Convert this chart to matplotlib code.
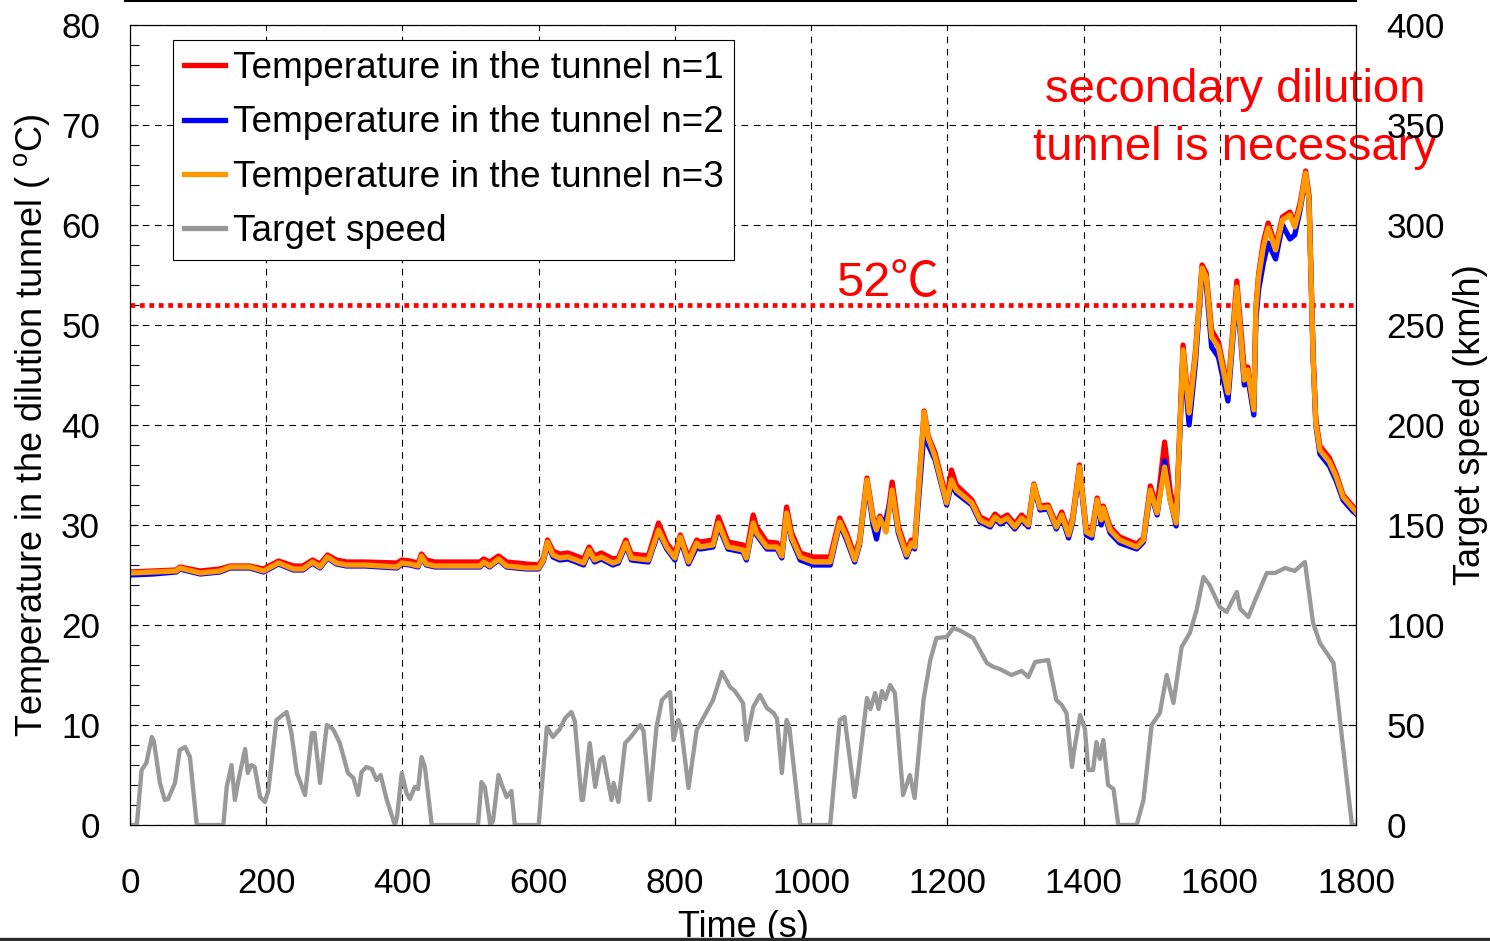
import matplotlib
matplotlib.use('Agg')
import matplotlib.pyplot as plt
from matplotlib import font_manager
from matplotlib.lines import Line2D
from matplotlib.ticker import MultipleLocator

# temperature in the dilution tunnel, three repeated runs (deg C)
TEMP_TIME = [0, 34, 68, 73, 103, 132, 147, 176, 196, 218, 240, 254, 268, 279, 290, 303, 318, 345,
             392, 399, 411, 423, 428, 435, 448, 514, 519, 528, 541, 553, 582, 600, 607, 613, 621,
             631, 643, 655, 666, 674, 682, 692, 709, 717, 728, 736, 761, 776, 788, 800, 808, 820,
             832, 837, 856, 864, 878, 900, 905, 915, 920, 935, 950, 957, 964, 971, 984, 1003, 1028,
             1042, 1052, 1064, 1071, 1082, 1091, 1096, 1101, 1110, 1119, 1128, 1140, 1147, 1152,
             1166, 1172, 1182, 1199, 1206, 1213, 1236, 1248, 1263, 1270, 1278, 1288, 1299, 1309,
             1319, 1327, 1336, 1348, 1360, 1368, 1378, 1384, 1394, 1404, 1412, 1420, 1426, 1429,
             1439, 1453, 1478, 1488, 1498, 1508, 1519, 1527, 1536, 1544, 1546, 1555, 1564, 1574,
             1580, 1588, 1598, 1612, 1625, 1636, 1641, 1650, 1653, 1657, 1664, 1671, 1682, 1692,
             1703, 1710, 1718, 1726, 1731, 1737, 1741, 1747, 1761, 1771, 1781, 1795, 1800]

TEMP_N1 = [25.3, 25.4, 25.5, 25.8, 25.4, 25.6, 25.9, 25.9, 25.6, 26.4, 25.9, 25.9, 26.5, 26.1, 27.0,
           26.5, 26.3, 26.3, 26.2, 26.5, 26.4, 26.2, 27.1, 26.5, 26.3, 26.3, 26.6, 26.3, 26.9, 26.3,
           26.1, 26.0, 26.7, 28.5, 27.4, 27.1, 27.2, 26.9, 26.6, 27.8, 26.9, 27.2, 26.6, 26.7, 28.5,
           27.1, 26.9, 30.2, 28.2, 27.1, 29.0, 26.7, 28.5, 28.3, 28.5, 30.8, 28.3, 28.0, 27.2, 31.0,
           29.8, 28.3, 28.2, 27.3, 31.8, 29.3, 27.2, 26.8, 26.8, 30.7, 29.2, 26.9, 28.5, 34.7, 30.8,
           29.8, 30.9, 29.7, 34.3, 29.9, 27.4, 28.5, 28.2, 41.4, 38.9, 37.2, 32.6, 35.5, 34.0, 32.5,
           30.8, 30.3, 31.1, 30.6, 31.0, 30.1, 31.0, 30.3, 34.1, 31.9, 32.0, 30.1, 31.3, 29.3, 30.8,
           36.0, 29.6, 29.3, 32.7, 30.8, 31.9, 29.8, 28.8, 28.1, 28.7, 33.9, 31.8, 38.3, 33.5, 30.5,
           44.5, 48.0, 41.5, 47.2, 56.0, 55.2, 49.5, 48.3, 43.6, 54.4, 45.5, 45.8, 41.8, 51.8, 55.1,
           58.3, 60.2, 57.9, 60.8, 61.3, 60.1, 62.2, 65.4, 63.0, 47.2, 40.6, 37.9, 36.7, 35.1, 33.0,
           31.9, 31.5]

TEMP_N2 = [25.0, 25.1, 25.3, 25.6, 25.1, 25.3, 25.7, 25.7, 25.3, 26.1, 25.5, 25.5, 26.2, 25.7, 26.7,
           26.1, 25.9, 25.9, 25.7, 26.1, 26.0, 25.8, 26.8, 26.0, 25.8, 25.8, 26.2, 25.8, 26.5, 25.8,
           25.6, 25.6, 26.4, 28.1, 26.8, 26.5, 26.6, 26.3, 26.0, 27.3, 26.3, 26.6, 26.0, 26.2, 28.0,
           26.5, 26.3, 29.3, 27.6, 26.5, 28.5, 26.1, 27.8, 27.6, 27.8, 29.9, 27.6, 27.3, 26.5, 30.0,
           29.0, 27.6, 27.6, 26.7, 31.0, 28.6, 26.5, 26.0, 26.0, 30.1, 28.5, 26.3, 28.0, 34.3, 30.0,
           28.6, 30.4, 30.6, 33.2, 29.2, 26.8, 28.0, 27.6, 39.5, 38.0, 36.5, 32.0, 34.1, 33.2, 32.0,
           30.3, 29.8, 30.6, 30.1, 30.5, 29.6, 30.5, 29.8, 33.9, 31.5, 31.6, 29.6, 30.8, 28.7, 30.3,
           35.6, 29.0, 28.7, 32.4, 30.0, 31.5, 29.2, 28.2, 27.6, 28.3, 33.3, 31.0, 36.4, 32.6, 29.9,
           43.5, 47.0, 40.0, 46.0, 55.4, 54.2, 47.8, 46.8, 42.4, 53.5, 44.0, 44.8, 41.0, 50.5, 53.5,
           56.2, 58.2, 56.6, 60.0, 58.6, 59.0, 61.5, 64.9, 62.5, 46.8, 40.0, 37.1, 35.9, 34.4, 32.5,
           31.4, 31.1]

TEMP_N3 = [25.2, 25.3, 25.4, 25.7, 25.2, 25.4, 25.8, 25.8, 25.4, 26.2, 25.6, 25.6, 26.3, 25.8, 26.8,
           26.2, 26.0, 26.0, 25.8, 26.2, 26.1, 25.9, 26.9, 26.1, 25.9, 25.9, 26.3, 25.9, 26.6, 25.9,
           25.7, 25.7, 26.5, 28.3, 27.0, 26.7, 26.8, 26.5, 26.2, 27.5, 26.5, 26.8, 26.2, 26.4, 28.2,
           26.7, 26.5, 29.5, 27.8, 26.7, 28.8, 26.3, 28.2, 27.8, 28.0, 30.2, 27.8, 27.5, 26.7, 30.2,
           29.2, 27.8, 27.8, 26.9, 31.2, 28.8, 26.8, 26.3, 26.3, 30.3, 28.8, 26.5, 28.2, 34.5, 30.5,
           29.5, 30.7, 29.3, 33.5, 29.5, 27.0, 28.2, 27.8, 41.3, 38.7, 36.8, 32.2, 34.5, 33.5, 32.2,
           30.5, 30.0, 30.8, 30.3, 30.7, 29.8, 30.7, 30.0, 34.0, 31.7, 31.8, 29.8, 31.0, 29.0, 30.5,
           35.8, 29.3, 29.0, 32.5, 30.5, 31.7, 29.5, 28.5, 27.8, 28.5, 33.5, 31.2, 35.8, 32.5, 30.2,
           44.2, 47.5, 41.2, 46.8, 55.7, 54.8, 48.8, 47.8, 43.2, 53.8, 44.5, 45.5, 41.5, 51.5, 54.8,
           57.8, 59.7, 57.5, 60.5, 61.0, 59.8, 61.8, 65.2, 62.5, 46.8, 40.2, 37.5, 36.3, 34.8, 32.8,
           31.7, 31.3]

# target vehicle speed (km/h)
SPEED_TIME = [0, 10, 17, 24, 32, 35, 44, 51, 56, 66, 73, 81, 88, 98, 137, 142, 149, 154, 159, 169,
              173, 178, 183, 191, 198, 203, 215, 230, 237, 245, 257, 267, 271, 279, 289, 298, 308,
              320, 328, 335, 340, 347, 355, 362, 368, 377, 389, 392, 399, 406, 411, 418, 423, 428,
              433, 443, 511, 516, 521, 529, 533, 541, 546, 553, 560, 565, 600, 612, 621, 631, 639,
              648, 653, 663, 665, 675, 680, 683, 690, 695, 702, 707, 710, 717, 727, 734, 749, 754,
              763, 773, 781, 793, 798, 805, 809, 820, 832, 856, 869, 881, 888, 900, 905, 915, 925,
              935, 945, 950, 957, 964, 968, 984, 1028, 1042, 1049, 1064, 1069, 1082, 1087, 1094,
              1099, 1104, 1109, 1116, 1123, 1135, 1145, 1152, 1165, 1175, 1184, 1199, 1209, 1220,
              1238, 1258, 1268, 1277, 1294, 1309, 1319, 1329, 1348, 1360, 1368, 1375, 1383, 1386,
              1395, 1402, 1407, 1414, 1419, 1424, 1429, 1436, 1444, 1451, 1478, 1488, 1500, 1512,
              1522, 1532, 1544, 1556, 1566, 1576, 1585, 1600, 1610, 1625, 1630, 1642, 1652, 1669,
              1681, 1696, 1710, 1725, 1737, 1747, 1767, 1794, 1800]

SPEED = [0, 0, 27.5, 31, 44, 42, 21, 12.5, 13, 21, 37.5, 39, 34, 0, 0, 19, 30, 12.5, 22, 38,
         26, 30, 29, 14, 11.5, 17, 52.5, 56.5, 46, 26, 15, 46, 46, 21, 50, 48, 41,
         26, 23.5, 15, 26.5, 29, 28, 22.5, 25, 12.5, 0, 4, 26, 16, 13, 19, 18, 34,
         29, 0, 0, 21.5, 19, 0, 2, 25, 20, 14, 17, 0, 0, 49, 44, 48, 53.5,
         56.5, 52, 12.5, 12.5, 41, 27.5, 19, 32.5, 34, 21.5, 12.5, 21, 11.5, 41, 43.5, 50, 47,
         12.5, 49, 62.5, 66.5, 42.5, 52.5, 49, 18.5, 47.5, 62.5, 76.5, 69, 67, 61, 42.5, 59, 65,
         58.5, 56, 53, 26, 52.5, 49, 0, 0, 52.5, 54, 14, 26, 63.5, 58, 66,
         58, 67, 63, 70, 66, 15, 25, 13.5, 62.5, 82.5, 93.5, 94, 98.5, 97,
         93.5, 81, 79, 78, 75, 77, 74, 81.5, 82.5, 62.5, 60, 56, 29, 37,
         55, 48, 27.5, 27.5, 41.5, 33, 42.5, 20, 18, 0, 0, 12.5, 50, 56,
         75, 61, 89, 96, 107.5, 124, 120, 109, 106.5, 116.5, 108, 104, 112.5, 126,
         126, 128.5, 127, 131.5, 101, 91, 81, 0, 0]

LIMIT_TEMP = 52  # tunnel temperature limit (deg C)

SERIES_LABELS = ["Temperature in the tunnel n=1",
                 "Temperature in the tunnel n=2",
                 "Temperature in the tunnel n=3",
                 "Target speed"]
COLORS = ["#FF0000", "#0000FF", "#FF9900", "#999999"]

X_TICKS = list(range(0, 1801, 200))
LEFT_TICKS = list(range(0, 81, 10))
RIGHT_TICKS = list(range(0, 401, 50))

# narrow sans if present, otherwise shrink the regular one so widths stay similar
installed = {f.name for f in font_manager.fontManager.ttflist}
if "Liberation Sans Narrow" in installed:
    BASE_FONT, K = "Liberation Sans Narrow", 1.0
else:
    BASE_FONT, K = "Liberation Sans", 0.84

plt.rcParams["font.family"] = [BASE_FONT, "DejaVu Sans"]
plt.rcParams["mathtext.fontset"] = "custom"
plt.rcParams["mathtext.rm"] = BASE_FONT
plt.rcParams["mathtext.it"] = BASE_FONT


def draw_chart():
    W, H = 1490, 941
    fig = plt.figure(figsize=(W / 100, H / 100), dpi=100)
    fig.patch.set_facecolor("white")
    ax = fig.add_axes([130 / W, 1 - 825 / H, 1226 / W, 800 / H])
    ax2 = ax.twinx()

    grid_style = dict(color="black", linestyle=(0, (6, 5)), linewidth=0.8)
    ax.grid(True, which="major", **grid_style)

    ax.axhline(LIMIT_TEMP, color="#FF0000", linestyle=(0, (1, 1)), linewidth=3.4, zorder=1.8)

    lines = []
    for vals, lab, col in zip([TEMP_N1, TEMP_N2, TEMP_N3], SERIES_LABELS[:3], COLORS[:3]):
        ln, = ax.plot(TEMP_TIME, vals, color=col, linewidth=3.8, label=lab,
                      solid_joinstyle="round")
        lines.append(ln)
    sp, = ax2.plot(SPEED_TIME, SPEED, color=COLORS[3], linewidth=3.1, label=SERIES_LABELS[3],
                   solid_joinstyle="round")
    lines.append(sp)

    ax.set_xlim(0, 1800)
    ax.set_ylim(0, 80)
    ax2.set_ylim(0, 400)
    ax.set_xticks(X_TICKS)
    ax.set_yticks(LEFT_TICKS)
    ax2.set_yticks(RIGHT_TICKS)
    ax.yaxis.set_minor_locator(MultipleLocator(2))

    tick_fs = 30 * K
    ax.tick_params(axis="both", which="both", direction="in", width=0.8,
                   top=False, right=False, labelsize=tick_fs)
    ax.tick_params(axis="y", which="major", length=6, pad=21.5)
    ax.tick_params(axis="y", which="minor", length=6.5)
    ax.tick_params(axis="x", which="major", length=6, pad=30)
    ax2.tick_params(axis="y", direction="in", length=6, width=0.8, pad=22, labelsize=tick_fs)

    for a in (ax, ax2):
        for s in a.spines.values():
            s.set_linewidth(0.8)
            s.set_color("black")

    lab_fs = 31 * K
    ax.set_ylabel("Temperature in the dilution tunnel ( $^{\\mathrm{o}}$C)", fontsize=lab_fs)
    ax.yaxis.set_label_coords(-0.064, 0.5)
    ax2.set_ylabel("Target speed (km/h)", fontsize=lab_fs)
    ax2.yaxis.set_label_coords(1.079, 0.5)
    ax.set_xlabel("Time (s)", fontsize=lab_fs)
    ax.xaxis.set_label_coords(0.5, -0.106)

    leg = ax2.legend(handles=lines, loc="upper left", bbox_to_anchor=(0.035, 0.981),
                     borderaxespad=0, fontsize=31.6 * K, handlelength=1.1,
                     handletextpad=0.22, labelspacing=0.52, borderpad=0.3,
                     fancybox=False, framealpha=1, edgecolor="black")
    leg.get_frame().set_linewidth(0.8)
    for h in leg.legend_handles:
        h.set_linewidth(3.8)

    red_font = ["Liberation Sans", "Noto Sans CJK JP", "DejaVu Sans"]
    ax.text(1036, 52.9, "52\u2103", color="#FF0000", fontsize=35, family=red_font,
            ha="left", va="baseline")
    ax.text(1622, 72.3, "secondary dilution", color="#FF0000", fontsize=34,
            family=red_font, ha="center", va="baseline")
    ax.text(1622, 66.5, "tunnel is necessary", color="#FF0000", fontsize=34,
            family=red_font, ha="center", va="baseline")

    # page rules above and below the figure
    fig.add_artist(Line2D([125 / W, 1356 / W], [1 - 1 / H, 1 - 1 / H],
                          transform=fig.transFigure, color="black", linewidth=1.5))
    fig.add_artist(Line2D([0, 1], [2 / H, 2 / H], transform=fig.transFigure,
                          color="#2b2b2b", linewidth=2.4))

    fig.savefig("out.png", dpi=100)
    plt.close(fig)


if __name__ == "__main__":
    draw_chart()
